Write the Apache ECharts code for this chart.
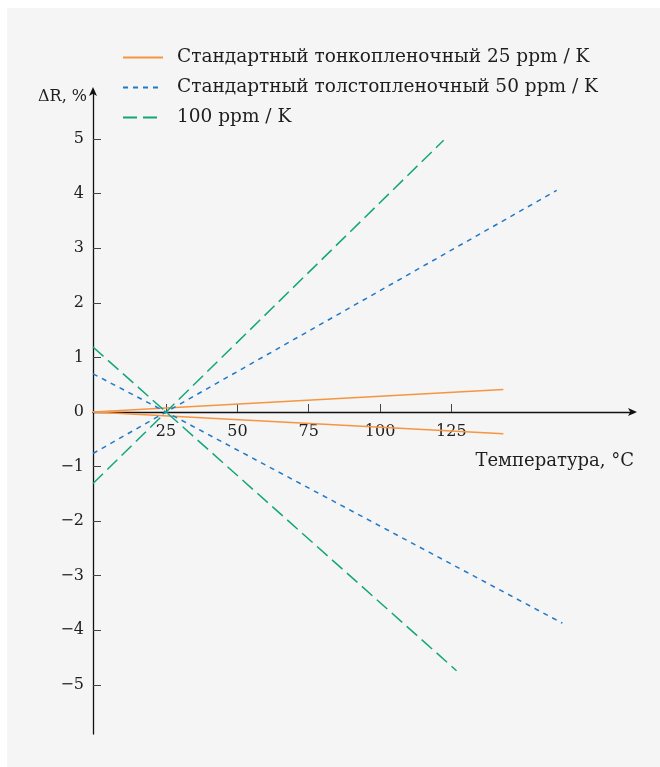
<!DOCTYPE html>
<html>
<head>
<meta charset="utf-8">
<script src="https://cdn.jsdelivr.net/npm/echarts@6/dist/echarts.min.js"></script>
<style>
  html, body { margin: 0; padding: 0; background: #ffffff; }
  #chart { width: 660px; height: 767px; }
</style>
</head>
<body>
<div id="chart"></div>
<script>
// ---- data ----
const legendNames = [
  'Стандартный тонкопленочный 25 ppm / K',
  'Стандартный толстопленочный 50 ppm / K',
  '100 ppm / K'
];
const xTicks = [25, 50, 75, 100, 125];
const yTicks = [-5, -4, -3, -2, -1, 0, 1, 2, 3, 4, 5];

// [temperature, ΔR %]
const thinUpper  = [[-0.6, 0], [143.2, 0.41]];
const thinLower  = [[-0.6, 0], [143.2, -0.40]];
const thickRise  = [[-0.6, -0.76], [25, 0], [161.9, 4.06]];
const thickFall  = [[-0.6, 0.70], [25, 0], [163.9, -3.87]];
const ppm100Rise = [[-0.6, -1.31], [25, 0], [122.3, 4.98]];
const ppm100Fall = [[-0.6, 1.19], [25, 0], [126.8, -4.74]];

const colors = ['#f7943f', '#1f78c9', '#13a67a'];
const FONT = 'DejaVu Serif';
const TEXT = '#1e1e1e';
const minus = v => String(v).replace('-', '\u2212');

// layout
const GRID = { left: 93, right: 26, top: 90, bottom: 33 };
const X_MIN = -0.6, X_MAX = 189;
const Y_MIN = -5.9, Y_MAX = 5.9;
const gridH = 767 - GRID.top - GRID.bottom;
const xAxisOffset = -(0 - Y_MIN) / (Y_MAX - Y_MIN) * gridH; // put x axis at ΔR = 0

function lineSeries(name, data, color, type) {
  return {
    name: name,
    type: 'line',
    data: data,
    symbol: 'none',
    showSymbol: false,
    silent: true,
    animation: false,
    lineStyle: { color: color, width: 1.5, type: type },
    itemStyle: { color: color }
  };
}

const chart = echarts.init(document.getElementById('chart'), null, { renderer: 'canvas' });
chart.setOption({
  animation: false,
  textStyle: { fontFamily: FONT },
  graphic: [{
    type: 'rect', z: -10, silent: true,
    shape: { x: 7, y: 8, width: 653, height: 759 },
    style: { fill: '#f5f5f5' }
  }],
  legend: {
    data: legendNames,
    orient: 'vertical',
    left: 117,
    top: 43,
    itemWidth: 40,
    itemHeight: 14,
    itemGap: 11,
    selectedMode: false,
    itemStyle: { color: 'rgba(0,0,0,0)', borderColor: 'rgba(0,0,0,0)', borderWidth: 0, opacity: 0 },
    textStyle: { fontFamily: FONT, fontSize: 18.5, color: TEXT, padding: [0, 0, 0, 9] }
  },
  grid: { left: GRID.left, right: GRID.right, top: GRID.top, bottom: GRID.bottom, containLabel: false },
  xAxis: {
    type: 'value',
    min: X_MIN,
    max: X_MAX,
    offset: xAxisOffset,
    name: 'Температура, °C',
    nameLocation: 'end',
    nameGap: 0,
    nameTextStyle: {
      fontFamily: FONT, fontSize: 18, color: TEXT,
      align: 'right', verticalAlign: 'top', padding: [40, 0, 0, 0]
    },
    splitLine: { show: false },
    axisLine: {
      onZero: false,
      lineStyle: { color: '#111', width: 1.3 },
      symbol: ['none', 'arrow'],
      symbolSize: [6, 9],
      symbolOffset: [0, 3]
    },
    axisTick: { show: true, inside: true, length: 8, customValues: xTicks, lineStyle: { color: '#444', width: 1 } },
    axisLabel: {
      customValues: xTicks, margin: 12,
      fontFamily: FONT, fontSize: 16, color: TEXT
    }
  },
  yAxis: {
    type: 'value',
    min: Y_MIN,
    max: Y_MAX,
    name: 'ΔR, %',
    nameLocation: 'end',
    nameGap: -7,
    nameTextStyle: {
      fontFamily: FONT, fontSize: 16, color: TEXT,
      align: 'right', verticalAlign: 'middle', padding: [0, 6, 0, 0]
    },
    splitLine: { show: false },
    axisLine: {
      onZero: false,
      lineStyle: { color: '#111', width: 1.3 },
      symbol: ['none', 'arrow'],
      symbolSize: [6, 9],
      symbolOffset: [0, 3]
    },
    axisTick: { show: true, inside: true, length: 8, customValues: yTicks, lineStyle: { color: '#444', width: 1 } },
    axisLabel: {
      customValues: yTicks, margin: 9,
      fontFamily: FONT, fontSize: 16, color: TEXT,
      formatter: v => minus(v)
    }
  },
  series: [
    lineSeries(legendNames[0], thinUpper, colors[0], 'solid'),
    lineSeries(legendNames[0], thinLower, colors[0], 'solid'),
    lineSeries(legendNames[1], thickRise, colors[1], [5, 5]),
    lineSeries(legendNames[1], thickFall, colors[1], [5, 5]),
    lineSeries(legendNames[2], ppm100Rise, colors[2], [14, 6]),
    lineSeries(legendNames[2], ppm100Fall, colors[2], [14, 6])
  ]
});
</script>
</body>
</html>
